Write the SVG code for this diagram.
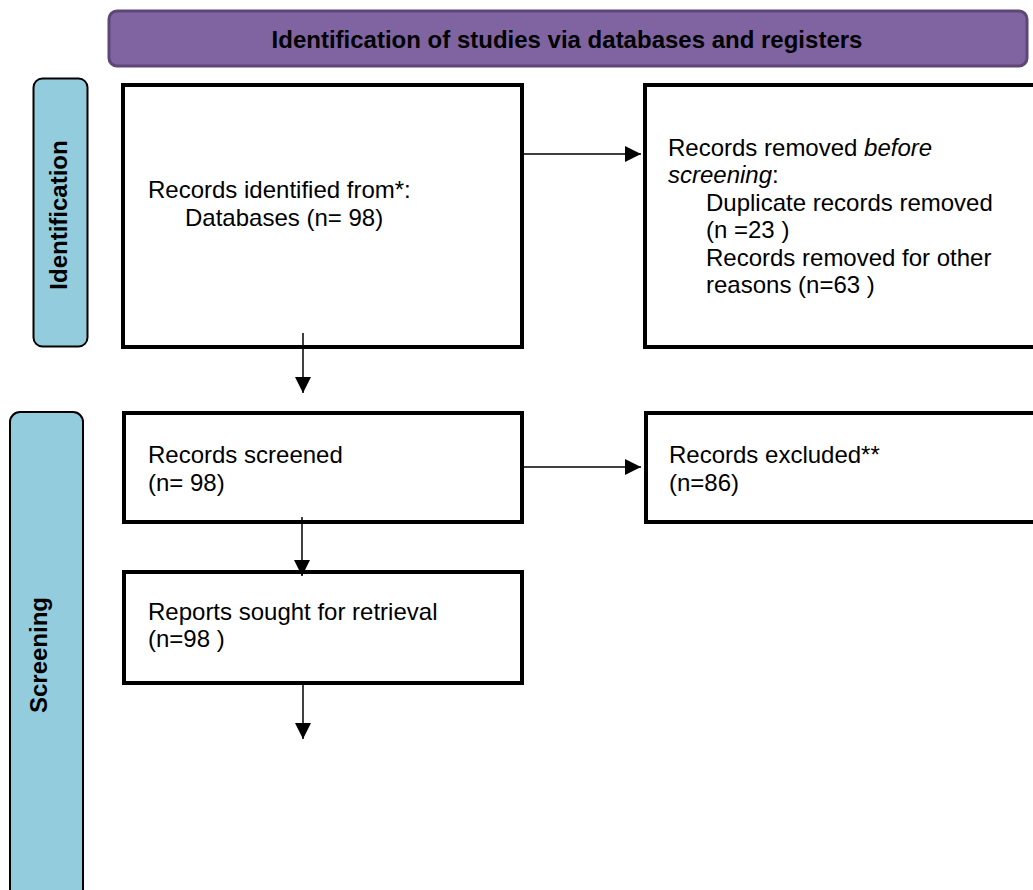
<svg xmlns="http://www.w3.org/2000/svg" width="1033" height="890" viewBox="0 0 1033 890">
<style>
.box{fill:#ffffff;stroke:#000000;stroke-width:4}
.side{fill:#93CDDD;stroke:#000000;stroke-width:2}
.hdr{fill:#8064A2;stroke:#5C4776;stroke-width:3}
.t{font-family:"Liberation Sans",Arial,sans-serif;font-size:24px;fill:#000000}
.b{font-family:"Liberation Sans",Arial,sans-serif;font-size:24px;font-weight:bold;fill:#000000}
.conn{stroke:#000000;stroke-width:1.5;fill:none;marker-end:url(#arrow)}
</style>
<defs>
<marker id="arrow" markerUnits="userSpaceOnUse" markerWidth="16" markerHeight="16" refX="16" refY="8" orient="auto">
<path d="M0,0 L16,8 L0,16 Z" fill="#000000"/>
</marker>
</defs>
<rect width="1033" height="890" fill="#ffffff"/>
<g id="header">
<rect class="hdr" x="109" y="11" width="918" height="55" rx="8"/>
<text class="b" x="567" y="48" text-anchor="middle">Identification of studies via databases and registers</text>
</g>
<g id="side-identification">
<rect class="side" x="33.5" y="78.5" width="54" height="268" rx="9"/>
<text class="b" transform="translate(67,215) rotate(-90)" text-anchor="middle">Identification</text>
</g>
<g id="side-screening">
<rect class="side" x="10" y="412" width="73" height="495" rx="10"/>
<text class="b" transform="translate(47,655) rotate(-90)" text-anchor="middle">Screening</text>
</g>
<g id="records-identified">
<rect class="box" x="123" y="85" width="399" height="262"/>
<text class="t" x="148" y="198">Records identified from*:</text>
<text class="t" x="185" y="226">Databases (n= 98)</text>
</g>
<g id="records-removed">
<rect class="box" x="645" y="85" width="400" height="262"/>
<text class="t" x="668" y="156">Records removed <tspan font-style="italic">before</tspan></text>
<text class="t" x="668" y="183"><tspan font-style="italic">screening</tspan>:</text>
<text class="t" x="706" y="211">Duplicate records removed</text>
<text class="t" x="706" y="238">(n =23 )</text>
<text class="t" x="706" y="266">Records removed for other</text>
<text class="t" x="706" y="293">reasons (n=63 )</text>
</g>
<g id="records-screened">
<rect class="box" x="124" y="413" width="398" height="109"/>
<text class="t" x="148" y="463">Records screened</text>
<text class="t" x="148" y="491">(n= 98)</text>
</g>
<g id="records-excluded">
<rect class="box" x="646" y="413" width="400" height="109"/>
<text class="t" x="669" y="463">Records excluded**</text>
<text class="t" x="669" y="491">(n=86)</text>
</g>
<g id="reports-sought">
<rect class="box" x="124" y="572" width="398" height="111"/>
<text class="t" x="148" y="620">Reports sought for retrieval</text>
<text class="t" x="148" y="647">(n=98 )</text>
</g>
<g id="connectors">
<line class="conn" x1="522" y1="154" x2="641" y2="154"/>
<line class="conn" x1="303" y1="333" x2="303" y2="393"/>
<line class="conn" x1="522" y1="467" x2="641" y2="467"/>
<line class="conn" x1="302" y1="517" x2="302" y2="576"/>
<line class="conn" x1="303" y1="683" x2="303" y2="739"/>
</g>
</svg>
